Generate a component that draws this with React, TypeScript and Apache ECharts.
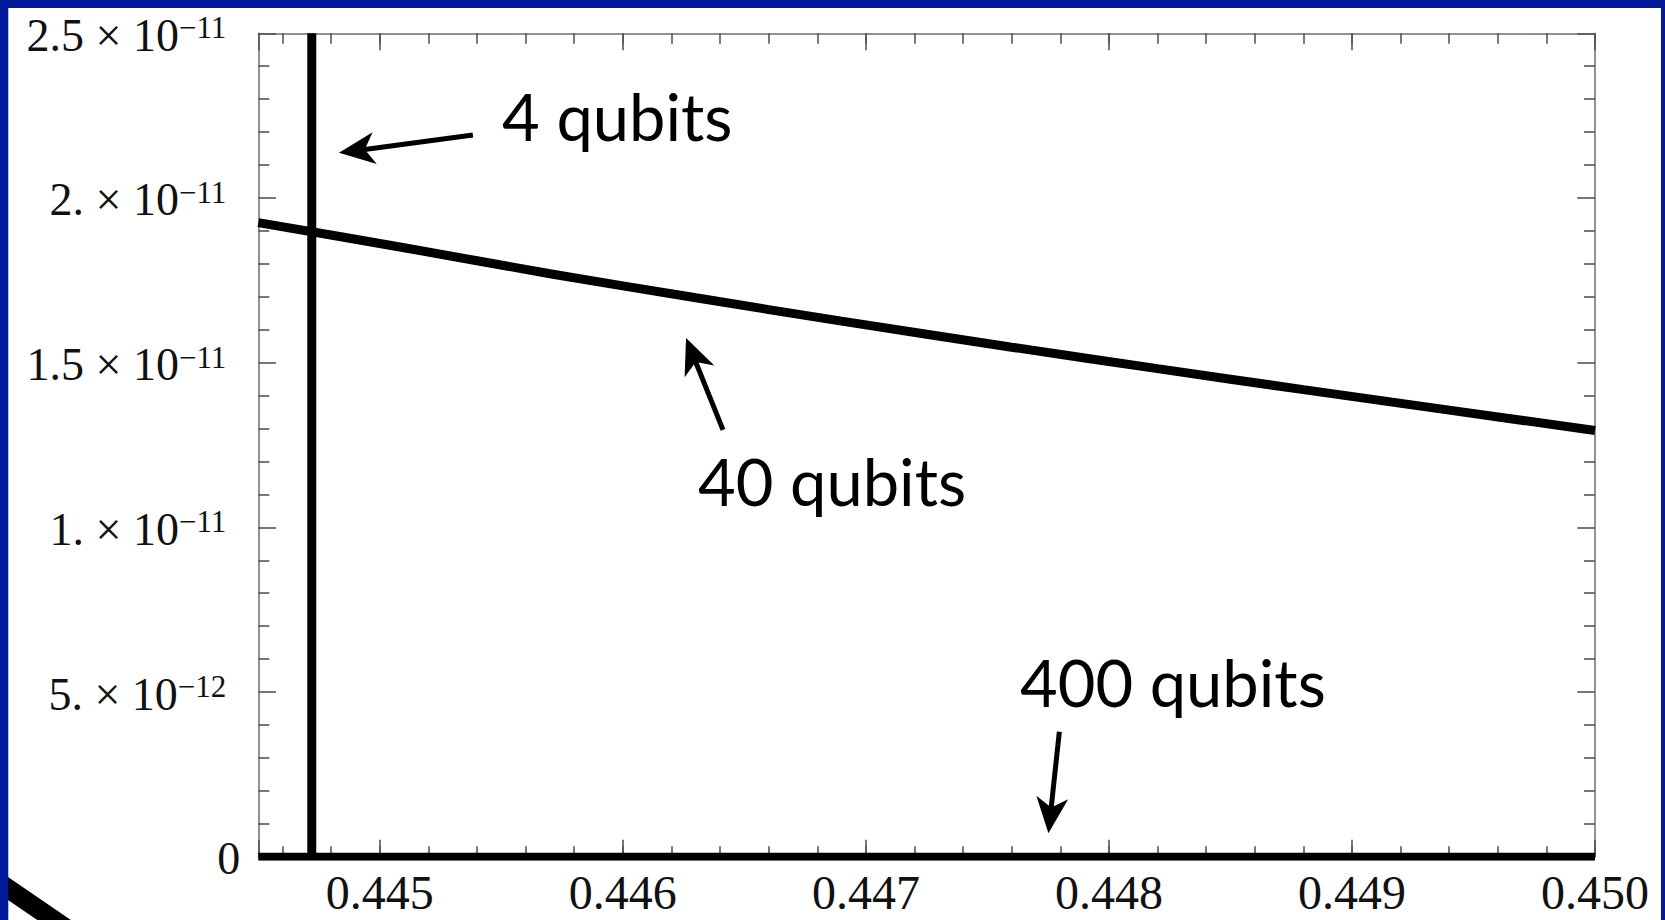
import React, { useEffect, useRef } from "react";
import * as echarts from "echarts";

// ---------- data ----------
const xMin = 0.4445;
const xMax = 0.45;
const yMin = 0;
const yMax = 2.5e-11;

// 40 qubits curve
const curve40X = [0.4445, 0.4451, 0.4457, 0.4463, 0.4469, 0.4476, 0.4482, 0.4488, 0.4494, 0.45];
const curve40Y = [19.25e-12, 18.49e-12, 17.7e-12, 16.97e-12, 16.26e-12, 15.47e-12, 14.82e-12, 14.18e-12, 13.56e-12, 12.94e-12];

// 4 qubits: vertical step
const line4X = [0.44472, 0.44472];
const line4Y = [0, 2.5e-11];

// 400 qubits: flat at zero
const line400X = [0.4445, 0.45];
const line400Y = [0, 0];

// tick labels
const xTickValues = [0.445, 0.446, 0.447, 0.448, 0.449, 0.45];
const xTickLabels = ["0.445", "0.446", "0.447", "0.448", "0.449", "0.450"];
const yTickValues = [0, 5e-12, 1e-11, 1.5e-11, 2e-11, 2.5e-11];
const yTickMantissa = ["0", "5.", "1.", "1.5", "2.", "2.5"];
const yTickExponent = ["", "\u221212", "\u221211", "\u221211", "\u221211", "\u221211"];

// annotations (data coordinates)
const annoTexts = ["4 qubits", "40 qubits", "400 qubits"];
const annoTextPos = [
  [0.445503, 22.49e-12],
  [0.446309, 11.41e-12],
  [0.447634, 5.31e-12],
];
const annoArrowFrom = [
  [0.445383, 21.91e-12],
  [0.446412, 12.96e-12],
  [0.447796, 3.795e-12],
];
const annoArrowTo = [
  [0.444832, 21.37e-12],
  [0.44626, 15.75e-12],
  [0.447751, 0.71e-12],
];

// ---------- layout ----------
const W = 1665;
const H = 920;
const GL = 258.3;
const GR = W - 1595;
const GT = 33.3;
const GB = H - 856.7;
const minorStart = 0.4446;
const minorGridLeft = GL + ((minorStart - xMin) / (xMax - xMin)) * (W - GL - GR);

const BLUE = "#03199A";
const FRAME = "#6e6e6e";
const TICK = "#555555";
const SERIF = "'Liberation Serif', 'Times New Roman', serif";
const SANS = "Lato, 'Open Sans', sans-serif";

const tickStyle = { color: TICK, width: 1.6 };

function zip(xs: number[], ys: number[]) {
  return xs.map((x, i) => [x, ys[i]]);
}

function xLabel(v: number) {
  for (let i = 0; i < xTickValues.length; i++) {
    if (Math.abs(xTickValues[i] - v) < 1e-9) return xTickLabels[i];
  }
  return "";
}

function yLabel(v: number) {
  for (let i = 0; i < yTickValues.length; i++) {
    if (Math.abs(yTickValues[i] - v) < 1e-16) {
      if (!yTickExponent[i]) return `{z|${yTickMantissa[i]}}`;
      return `{m|${yTickMantissa[i]} \u00d7 10}{e|${yTickExponent[i]}}`;
    }
  }
  return "";
}

export default function App() {
  const ref = useRef<HTMLDivElement>(null);

  useEffect(() => {
    const chart = echarts.init(ref.current!, null, { renderer: "svg" });
    const option: any = {
      animation: false,
      backgroundColor: "#ffffff",
      grid: [
        { left: GL, right: GR, top: GT, bottom: GB, containLabel: false },
        { left: minorGridLeft, right: GR, top: GT, bottom: GB, containLabel: false },
      ],
      xAxis: [
        {
          gridIndex: 0,
          type: "value",
          position: "bottom",
          min: xMin,
          max: xMax,
          splitNumber: 5,
          axisLine: { show: true, onZero: false, lineStyle: { color: FRAME, width: 1.5 } },
          axisTick: { show: true, inside: true, length: 17, lineStyle: tickStyle },
          axisLabel: {
            show: true,
            formatter: (v: number) => xLabel(v),
            fontFamily: SERIF,
            fontSize: 48,
            color: "#111",
            margin: 12,
            showMinLabel: true,
            showMaxLabel: true,
          },
          splitLine: { show: false },
        },
        {
          gridIndex: 0,
          type: "value",
          position: "top",
          min: xMin,
          max: xMax,
          splitNumber: 5,
          axisLine: { show: true, onZero: false, lineStyle: { color: FRAME, width: 1.5 } },
          axisTick: { show: true, inside: true, length: 17, lineStyle: tickStyle },
          axisLabel: { show: false },
          splitLine: { show: false },
        },
        {
          gridIndex: 1,
          type: "value",
          position: "bottom",
          min: minorStart,
          max: xMax,
          interval: 0.0002,
          axisLine: { show: false, onZero: false },
          axisTick: { show: true, inside: true, length: 10.5, lineStyle: tickStyle },
          axisLabel: { show: false },
          splitLine: { show: false },
        },
        {
          gridIndex: 1,
          type: "value",
          position: "top",
          min: minorStart,
          max: xMax,
          interval: 0.0002,
          axisLine: { show: false, onZero: false },
          axisTick: { show: true, inside: true, length: 10.5, lineStyle: tickStyle },
          axisLabel: { show: false },
          splitLine: { show: false },
        },
      ],
      yAxis: [
        {
          gridIndex: 0,
          type: "value",
          position: "left",
          min: yMin,
          max: yMax,
          interval: 5e-12,
          axisLine: { show: true, onZero: false, lineStyle: { color: FRAME, width: 1.5 } },
          axisTick: { show: true, inside: true, length: 17.7, lineStyle: tickStyle },
          minorTick: { show: true, splitNumber: 5, length: 11, lineStyle: tickStyle },
          axisLabel: {
            show: true,
            margin: 18,
            align: "right",
            padding: [4, 0, 0, 0],
            formatter: (v: number) => yLabel(v),
            rich: {
              m: {
                fontFamily: SERIF,
                fontSize: 46,
                lineHeight: 46,
                color: "#111",
                padding: [8.5, 0, 0, 0],
                verticalAlign: "bottom",
              },
              e: {
                fontFamily: SERIF,
                fontSize: 31,
                lineHeight: 31,
                color: "#111",
                padding: [0, 14, 0, 0],
                verticalAlign: "top",
              },
              z: {
                fontFamily: SERIF,
                fontSize: 46,
                lineHeight: 46,
                color: "#111",
              },
            },
          },
          splitLine: { show: false },
          minorSplitLine: { show: false },
        },
        {
          gridIndex: 0,
          type: "value",
          position: "right",
          min: yMin,
          max: yMax,
          interval: 5e-12,
          axisLine: { show: true, onZero: false, lineStyle: { color: FRAME, width: 1.5 } },
          axisTick: { show: true, inside: true, length: 17.7, lineStyle: tickStyle },
          minorTick: { show: true, splitNumber: 5, length: 11, lineStyle: tickStyle },
          axisLabel: { show: false },
          splitLine: { show: false },
        },
        {
          gridIndex: 1,
          type: "value",
          min: 0,
          max: 1,
          show: false,
        },
      ],
      series: [
        {
          type: "line",
          name: "400 qubits",
          xAxisIndex: 0,
          yAxisIndex: 0,
          data: zip(line400X, line400Y),
          showSymbol: false,
          symbol: "none",
          lineStyle: { color: "#000", width: 8, cap: "butt" },
          z: 5,
        },
        {
          type: "line",
          name: "4 qubits",
          xAxisIndex: 0,
          yAxisIndex: 0,
          data: zip(line4X, line4Y),
          showSymbol: false,
          symbol: "none",
          lineStyle: { color: "#000", width: 9, cap: "butt" },
          z: 5,
        },
        {
          type: "line",
          name: "40 qubits",
          xAxisIndex: 0,
          yAxisIndex: 0,
          data: zip(curve40X, curve40Y),
          showSymbol: false,
          symbol: "none",
          smooth: 0.3,
          lineStyle: { color: "#000", width: 9, cap: "butt" },
          z: 5,
        },
      ],
    };
    chart.setOption(option);

    const toPx = (p: number[]) => chart.convertToPixel({ gridIndex: 0 } as any, p) as unknown as number[];

    const graphics: any[] = [];
    // frame decorations
    graphics.push({
      type: "line",
      z: 100,
      shape: { x1: -20, y1: 869.3, x2: 90, y2: 944.6 },
      style: { stroke: "#000", lineWidth: 19 },
    });
    graphics.push({ type: "rect", z: 101, shape: { x: 0, y: 0, width: W, height: 8 }, style: { fill: BLUE } });
    graphics.push({ type: "rect", z: 101, shape: { x: 0, y: 0, width: 8.3, height: H }, style: { fill: BLUE } });
    graphics.push({ type: "rect", z: 101, shape: { x: 1661, y: 0, width: 4, height: H }, style: { fill: BLUE } });

    // annotation texts
    annoTexts.forEach((t, i) => {
      const p = toPx(annoTextPos[i]);
      graphics.push({
        type: "text",
        z: 50,
        x: p[0],
        y: p[1],
        style: {
          text: t,
          fill: "#000",
          fontFamily: SANS,
          fontSize: 65,
          align: "left",
          verticalAlign: "middle",
        },
      });
    });

    // arrows
    const headLen = 36;
    const headHalf = 16;
    const notch = 26;
    annoArrowFrom.forEach((from, i) => {
      const a = toPx(from);
      const b = toPx(annoArrowTo[i]);
      const dx = b[0] - a[0];
      const dy = b[1] - a[1];
      const len = Math.sqrt(dx * dx + dy * dy);
      const ux = dx / len;
      const uy = dy / len;
      const nx = -uy;
      const ny = ux;
      const baseX = b[0] - ux * headLen;
      const baseY = b[1] - uy * headLen;
      const notchX = b[0] - ux * notch;
      const notchY = b[1] - uy * notch;
      graphics.push({
        type: "line",
        z: 50,
        shape: { x1: a[0], y1: a[1], x2: notchX + ux * 2, y2: notchY + uy * 2 },
        style: { stroke: "#000", lineWidth: 5 },
      });
      graphics.push({
        type: "polygon",
        z: 50,
        shape: {
          points: [
            [b[0], b[1]],
            [baseX + nx * headHalf, baseY + ny * headHalf],
            [notchX, notchY],
            [baseX - nx * headHalf, baseY - ny * headHalf],
          ],
        },
        style: { fill: "#000" },
      });
    });

    chart.setOption({ graphic: graphics });

    return () => {
      chart.dispose();
    };
  }, []);

  return (
    <div
      ref={ref}
      style={{ position: "fixed", left: 0, top: 0, width: W, height: H }}
    />
  );
}
